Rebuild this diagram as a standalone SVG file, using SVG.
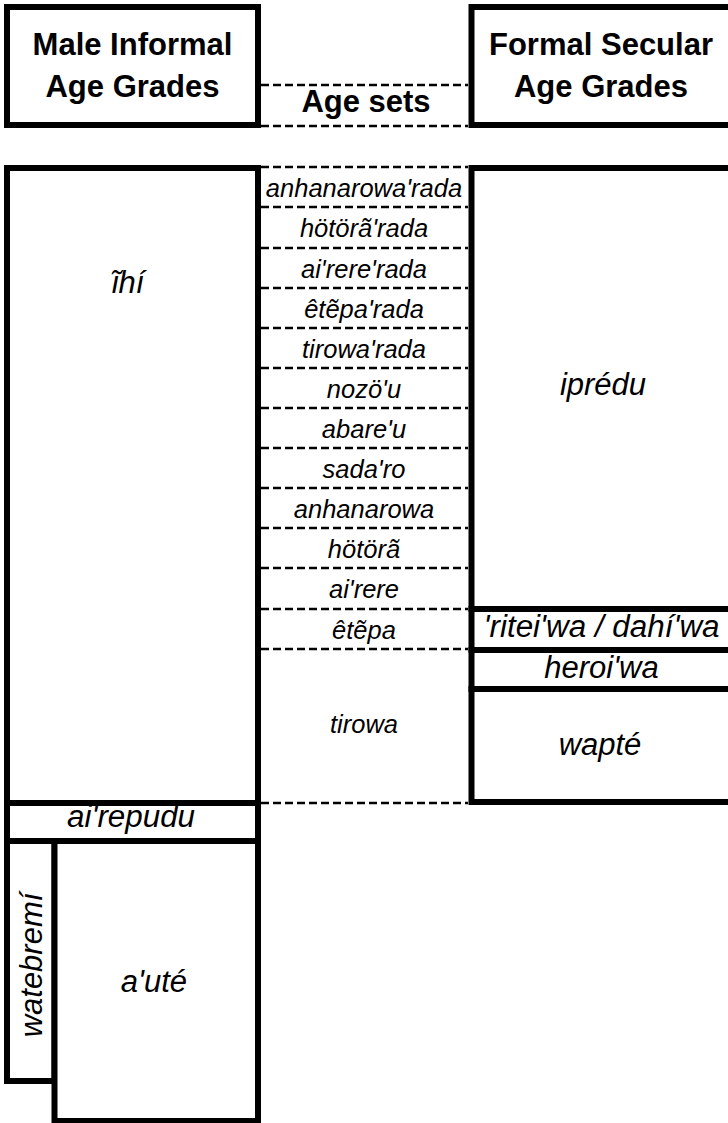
<svg xmlns="http://www.w3.org/2000/svg" width="728" height="1123" viewBox="0 0 728 1123">
<style>
.box{fill:#fff;stroke:#000;stroke-width:6}
.hd{font-family:"Liberation Sans",Arial,sans-serif;font-weight:bold;font-size:31px;text-anchor:middle;fill:#000}
.it{font-family:"Liberation Sans",Arial,sans-serif;font-style:italic;font-size:31px;text-anchor:middle;fill:#000}
.as{font-family:"Liberation Sans",Arial,sans-serif;font-style:italic;font-size:25.5px;text-anchor:middle;fill:#000}
.dash{stroke:#000;stroke-width:2.5;stroke-dasharray:8 4;fill:none}
</style>
<rect width="728" height="1123" fill="#fff"/>
<g id="connectors">
<line class="dash" x1="261" y1="85" x2="468" y2="85"/>
<line class="dash" x1="261" y1="126" x2="468" y2="126"/>
<line class="dash" x1="261" y1="167" x2="468" y2="167"/>
<line class="dash" x1="261" y1="207" x2="468" y2="207"/>
<line class="dash" x1="261" y1="248" x2="468" y2="248"/>
<line class="dash" x1="261" y1="288" x2="468" y2="288"/>
<line class="dash" x1="261" y1="328" x2="468" y2="328"/>
<line class="dash" x1="261" y1="368" x2="468" y2="368"/>
<line class="dash" x1="261" y1="408" x2="468" y2="408"/>
<line class="dash" x1="261" y1="448" x2="468" y2="448"/>
<line class="dash" x1="261" y1="488" x2="468" y2="488"/>
<line class="dash" x1="261" y1="528" x2="468" y2="528"/>
<line class="dash" x1="261" y1="568" x2="468" y2="568"/>
<line class="dash" x1="261" y1="609" x2="468" y2="609"/>
<line class="dash" x1="261" y1="649" x2="468" y2="649"/>
<line class="dash" x1="261" y1="803" x2="468" y2="803"/>
</g>
<g id="header-male">
<rect class="box" x="7" y="7" width="251" height="118"/>
<text class="hd" x="132.5" y="55">Male Informal</text>
<text class="hd" x="132.5" y="97">Age Grades</text>
</g>
<g id="header-agesets">
<text class="hd" x="366" y="112">Age sets</text>
</g>
<g id="header-formal">
<rect class="box" x="471.5" y="7" width="270" height="118"/>
<text class="hd" x="601" y="55">Formal Secular</text>
<text class="hd" x="601" y="97">Age Grades</text>
</g>
<g id="ihi">
<rect class="box" x="7" y="168" width="251" height="635"/>
<text class="it" x="128" y="293">ĩhí</text>
</g>
<g id="airepudu">
<rect class="box" x="7" y="803" width="251" height="38"/>
<text class="it" x="131" y="827" font-size="26" textLength="128" lengthAdjust="spacingAndGlyphs">ai'repudu</text>
</g>
<g id="watebremi">
<rect class="box" x="7" y="841" width="47.5" height="240"/>
<text class="it" transform="translate(42,965) rotate(-90)" x="0" y="0">watebremí</text>
</g>
<g id="aute">
<rect class="box" x="54.5" y="841" width="203.5" height="280"/>
<text class="it" x="154" y="992">a'uté</text>
</g>
<g id="agesets">
<text class="as" x="364" y="197">anhanarowa'rada</text>
<text class="as" x="364" y="237">hötörã'rada</text>
<text class="as" x="364" y="278">ai'rere'rada</text>
<text class="as" x="364" y="318">êtẽpa'rada</text>
<text class="as" x="364" y="358">tirowa'rada</text>
<text class="as" x="364" y="398">nozö'u</text>
<text class="as" x="364" y="438">abare'u</text>
<text class="as" x="364" y="478">sada'ro</text>
<text class="as" x="364" y="518">anhanarowa</text>
<text class="as" x="364" y="558">hötörã</text>
<text class="as" x="364" y="598">ai'rere</text>
<text class="as" x="364" y="639">êtẽpa</text>
<text class="as" x="364" y="733">tirowa</text>
</g>
<g id="ipredu">
<rect class="box" x="471.5" y="168" width="270" height="441"/>
<text class="it" x="603" y="395">iprédu</text>
</g>
<g id="ritei">
<rect class="box" x="471.5" y="609" width="270" height="41"/>
<text class="it" x="601.5" y="637" font-size="29" textLength="236" lengthAdjust="spacingAndGlyphs">'ritei'wa / dahí'wa</text>
</g>
<g id="heroiwa">
<rect class="box" x="471.5" y="650" width="270" height="39"/>
<text class="it" x="601.5" y="678">heroi'wa</text>
</g>
<g id="wapte">
<rect class="box" x="471.5" y="689" width="270" height="113"/>
<text class="it" x="600" y="755">wapté</text>
</g>
</svg>
